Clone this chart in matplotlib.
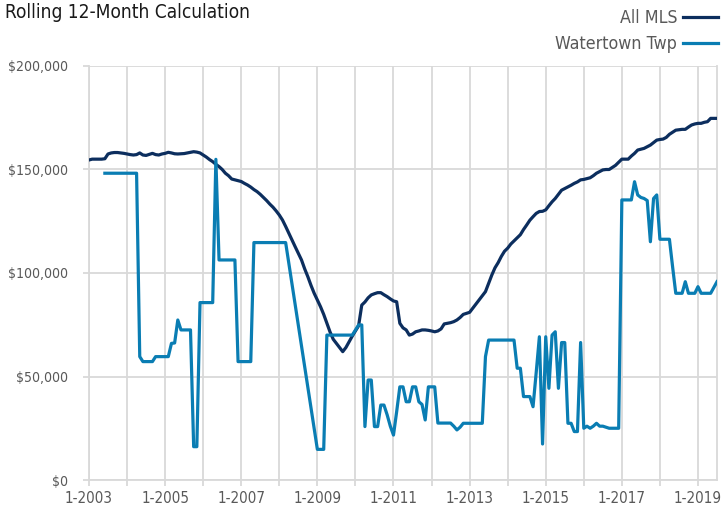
import numpy as np
import matplotlib
matplotlib.use("Agg")
import matplotlib.pyplot as plt
from matplotlib import font_manager

nan = np.nan

# monthly values in $1,000, Jan 2003 .. Jul 2019
all_mls = [
    154.6, 155.0, 155.0, 155.0, 155.0, 155.2, 157.5, 158.0, 158.2, 158.2, 158.0, 157.8,  # 2003
    157.5, 157.2, 157.0, 157.2, 158.0, 157.0, 156.8, 157.3, 157.8, 157.2, 157.0, 157.5,  # 2004
    157.8, 158.3, 158.0, 157.6, 157.5, 157.6, 157.7, 158.0, 158.3, 158.6, 158.4, 158.0,  # 2005
    157.0, 156.0, 154.8, 153.8, 152.5, 151.4, 150.0, 148.2, 147.0, 145.4, 145.0, 144.6,  # 2006
    144.2, 143.3, 142.5, 141.5, 140.3, 139.3, 138.0, 136.5, 135.0, 133.3, 131.8, 130.0,  # 2007
    128.0, 125.6, 122.5, 119.2, 116.0, 112.7, 109.5, 106.3, 102.0, 98.2, 94.0, 90.2,     # 2008
    87.0, 83.7, 80.0, 75.7, 71.5, 68.0, 66.0, 64.0, 62.0, 64.0, 66.8, 69.5,              # 2009
    72.0, 74.5, 84.5, 86.0, 88.0, 89.4, 90.0, 90.5, 90.5, 89.5, 88.6, 87.5,              # 2010
    86.5, 86.1, 75.7, 73.5, 72.5, 70.0, 70.5, 71.6, 72.0, 72.5, 72.5, 72.3,              # 2011
    72.0, 71.6, 72.0, 73.0, 75.4, 75.7, 76.0, 76.5, 77.3, 78.5, 80.0, 80.5,              # 2012
    81.0, 83.0, 85.0, 87.0, 89.0, 91.0, 95.0, 99.0, 102.5, 105.0, 108.0, 110.5,          # 2013
    112.0, 114.0, 115.5, 117.0, 118.5, 121.0, 123.2, 125.5, 127.2, 128.8, 129.7, 129.8,  # 2014
    130.5, 132.5, 134.4, 136.0, 138.0, 140.0, 140.8, 141.6, 142.4, 143.3, 144.0, 145.0,  # 2015
    145.2, 145.6, 146.0, 147.0, 148.2, 149.0, 149.8, 150.0, 150.0, 151.0, 152.0, 153.5,  # 2016
    155.0, 155.0, 155.0, 156.5, 157.8, 159.4, 159.8, 160.2, 161.0, 161.8, 163.0, 164.2,  # 2017
    164.5, 164.7, 165.5, 167.0, 168.0, 169.0, 169.2, 169.4, 169.4, 170.5, 171.5, 172.0,  # 2018
    172.3, 172.3, 172.8, 173.1, 174.7, 174.7, 174.7,                                     # 2019
]

watertown = [
    nan, nan, nan, nan, nan, 148.2, 148.2, 148.2, 148.2, 148.2, 148.2, 148.2,            # 2003
    148.2, 148.2, 148.2, 148.2, 59.6, 57.2, 57.2, 57.2, 57.2, 59.6, 59.6, 59.6,          # 2004
    59.6, 59.6, 66.0, 66.2, 77.3, 72.5, 72.5, 72.5, 72.5, 16.1, 16.1, 85.7,              # 2005
    85.7, 85.7, 85.7, 85.7, 154.9, 106.3, 106.3, 106.3, 106.3, 106.3, 106.3, 57.2,       # 2006
    57.2, 57.2, 57.2, 57.2, 114.7, 114.7, 114.7, 114.7, 114.7, 114.7, 114.7, 114.7,      # 2007
    114.7, 114.7, 114.7, nan, nan, nan, nan, nan, nan, nan, nan, nan,                    # 2008
    14.8, 14.8, 14.8, 70.0, 70.0, 70.0, 70.0, 70.0, 70.0, 70.0, 70.0, 70.0,              # 2009
    72.5, 74.9, 74.9, 25.8, 48.3, 48.3, 25.8, 25.8, 36.2, 36.2, 31.5, 26.0,              # 2010
    21.7, 33.0, 45.0, 45.0, 37.8, 37.8, 45.0, 45.0, 37.8, 36.5, 29.0, 45.0,              # 2011
    45.0, 45.0, 27.5, 27.5, 27.5, 27.5, 27.5, 26.0, 24.2, 25.5, 27.4, 27.4,              # 2012
    27.4, 27.4, 27.4, 27.4, 27.4, 59.6, 67.6, 67.6, 67.6, 67.6, 67.6, 67.6,              # 2013
    67.6, 67.6, 67.6, 54.0, 54.0, 40.3, 40.3, 40.3, 35.4, 52.0, 69.2, 17.4,              # 2014
    69.2, 44.3, 70.0, 71.6, 44.3, 66.4, 66.4, 27.4, 27.4, 23.4, 23.4, 66.4,              # 2015
    25.0, 26.0, 25.0, 26.0, 27.4, 26.0, 26.0, 25.5, 25.0, 25.0, 25.0, 25.0,              # 2016
    135.3, 135.3, 135.3, 135.3, 144.1, 137.7, 136.5, 136.0, 135.0, 115.1, 136.0, 137.7,  # 2017
    116.3, 116.3, 116.3, 116.3, 103.0, 90.2, 90.2, 90.2, 95.8, 90.2, 90.2, 90.2,         # 2018
    93.4, 90.2, 90.2, 90.2, 90.2, 93.0, 95.8,                                            # 2019
]

years = list(range(2003, 2020))
series_names = ["All MLS", "Watertown Twp"]
y_ticks = [0, 50000, 100000, 150000, 200000]

dark = "#0c2e5e"
blue = "#0a7db3"
grid = "#d9d9d9"
label_grey = "#595959"

# the original uses a condensed Helvetica; take a narrow face if there is one
fam = "Liberation Sans"
for f in font_manager.fontManager.ttflist:
    if "Narrow" in f.name or (f.stretch in ("condensed", "semi-condensed") and "Sans" in f.name
                              and "Mono" not in f.name and "CJK" not in f.name):
        fam = f.name
        plt.rcParams["font.stretch"] = f.stretch
        break
plt.rcParams["font.family"] = [fam, "DejaVu Sans"]

months = np.arange(len(all_mls))
mls = np.array(all_mls) * 1000
wt = np.array(watertown) * 1000
ok = ~np.isnan(wt)  # excel joins across the empty months

W, H = 721, 515
fig = plt.figure(figsize=(W / 100, H / 100), dpi=100)
ax = fig.add_axes([89 / W, 1 - 480 / H, (717 - 89) / W, (480 - 66) / H])

l1, = ax.plot(months, mls, color=dark, lw=2.3, solid_joinstyle="round", zorder=3)
l2, = ax.plot(months[ok], wt[ok], color=blue, lw=2.3, solid_joinstyle="round", zorder=4)

ax.set_xlim(0, len(all_mls) - 1)
ax.set_ylim(0, 200000)
ax.set_xticks([12 * i for i in range(len(years))])
ax.set_xticklabels([f"1-{y}" if (y - 2003) % 2 == 0 else "" for y in years])
ax.set_yticks(y_ticks)
ax.set_yticklabels([f"${v:,.0f}" for v in y_ticks])

ax.grid(True, color=grid, lw=1.3, zorder=0)
ax.set_axisbelow(True)
for s in ax.spines.values():
    s.set_color(grid)
    s.set_linewidth(1.3)
ax.spines["top"].set_visible(False)
ax.tick_params(axis="both", length=4.5, width=1.3, color=grid, labelcolor=label_grey, labelsize=12)

title = fig.text(5 / W, 1 - 12 / H, "Rolling 12-Month Calculation", fontsize=15, color="#1a1a1a",
                 va="center", ha="left")

# size the texts so their widths match the original
renderer = fig.canvas.get_renderer()


def fit_size(txt, target_px, size):
    txt.set_fontsize(size)
    w = txt.get_window_extent(renderer).width
    return size * target_px / w


title.set_fontsize(fit_size(title, 245, 15))

probe = fig.text(0, 0, "$200,000")
ysize = fit_size(probe, 60, 12)
probe.set_text("1-2003")
xsize = fit_size(probe, 48, 12)
probe.set_text("Watertown Twp")
lsize = fit_size(probe, 121, 13)
probe.remove()

ax.tick_params(axis="y", labelsize=ysize, pad=10.5)
ax.tick_params(axis="x", labelsize=xsize, pad=3.5)

lsize_px = lsize * 100 / 72
fig.legend([l1, l2], series_names, loc="upper right", bbox_to_anchor=(718 / W, 1 - 9 / H),
           frameon=False, markerfirst=False, fontsize=lsize, handlelength=35 / lsize_px,
           handletextpad=6 / lsize_px, labelspacing=0.46, borderpad=0, borderaxespad=0,
           labelcolor=label_grey)

fig.savefig("out.png", dpi=100)
